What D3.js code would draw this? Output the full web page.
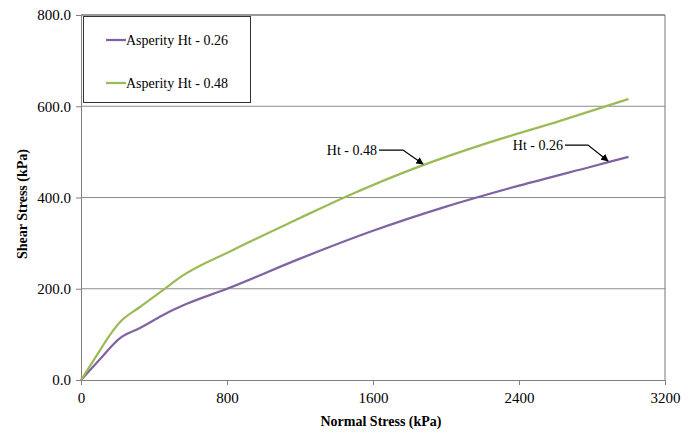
<!DOCTYPE html>
<html>
<head>
<meta charset="utf-8">
<script src="https://cdn.jsdelivr.net/npm/d3@7"></script>
<style>
  body { margin: 0; background: #fff; }
  svg text { font-family: "Times New Roman", "Liberation Serif", "DejaVu Serif", serif; }
</style>
</head>
<body>
<svg id="chart"></svg>
<script>
const width = 693,
  height = 434;
const margin = { top: 15, right: 28, bottom: 54, left: 81 };
const serif = "'Times New Roman', 'Liberation Serif', 'DejaVu Serif', serif";

// Series (normal stress kPa, shear stress kPa)
const normal26 = [0, 100, 214, 323, 471, 580, 800, 1200, 1600, 2000, 2400, 2800, 3000];
const shear26 = [0, 44, 92, 114, 147, 167, 200, 266, 327, 380, 426, 468, 489];
const normal48 = [0, 80, 159, 214, 323, 449, 542, 833, 1200, 1436, 1874, 2200, 2625, 3000];
const shear48 = [0, 50, 99, 127, 160, 197, 225, 285, 355, 399, 471, 516, 568, 616];

const seriesNames = ["Asperity Ht - 0.26", "Asperity Ht - 0.48"];
const seriesColors = ["#8064a2", "#9bbb59"];
const xTicks = [0, 800, 1600, 2400, 3200];
const yTicks = [0, 200, 400, 600, 800];

const series = [
  { name: seriesNames[0], color: seriesColors[0], pts: normal26.map((x, i) => [x, shear26[i]]) },
  { name: seriesNames[1], color: seriesColors[1], pts: normal48.map((x, i) => [x, shear48[i]]) }
];

const svg = d3.select("#chart")
  .attr("width", width)
  .attr("height", height)
  .attr("font-family", serif);

const x = d3.scaleLinear().domain([0, 3200]).range([margin.left, width - margin.right]);
const y = d3.scaleLinear().domain([0, 800]).range([height - margin.bottom, margin.top]);

// gridlines
svg.append("g")
  .selectAll("line")
  .data(yTicks.filter(d => d > 0 && d < 800))
  .enter()
  .append("line")
  .attr("x1", x(0))
  .attr("x2", x(3200))
  .attr("y1", d => y(d))
  .attr("y2", d => y(d))
  .attr("stroke", "#8c8c8c")
  .attr("stroke-width", 1);

// plot frame: top and right
svg.append("line")
  .attr("x1", x(0)).attr("x2", x(3200))
  .attr("y1", y(800)).attr("y2", y(800))
  .attr("stroke", "#333").attr("stroke-width", 1);
svg.append("line")
  .attr("x1", x(3200)).attr("x2", x(3200))
  .attr("y1", y(800)).attr("y2", y(0))
  .attr("stroke", "#777").attr("stroke-width", 1);

// axes
const xAxis = svg.append("g")
  .attr("transform", "translate(0," + y(0) + ")")
  .call(d3.axisBottom(x).tickValues(xTicks).tickFormat(d3.format("d")).tickSize(5).tickPadding(7).tickSizeOuter(0));
const yAxis = svg.append("g")
  .attr("transform", "translate(" + x(0) + ",0)")
  .call(d3.axisLeft(y).tickValues(yTicks).tickFormat(d3.format(".1f")).tickSize(5).tickPadding(5).tickSizeOuter(0));

[xAxis, yAxis].forEach(a => {
  a.attr("font-family", serif).attr("font-size", 15);
  a.select(".domain").attr("stroke", "#808080");
  a.selectAll(".tick line").attr("stroke", "#808080");
  a.selectAll(".tick text").attr("fill", "#000");
});

// lines
const line = d3.line()
  .x(d => x(d[0]))
  .y(d => y(d[1]))
  .curve(d3.curveMonotoneX);

svg.append("g")
  .selectAll("path")
  .data(series)
  .enter()
  .append("path")
  .attr("d", d => line(d.pts))
  .attr("fill", "none")
  .attr("stroke", d => d.color)
  .attr("stroke-width", 2.25);

// axis titles
svg.append("text")
  .attr("x", 381)
  .attr("y", 426)
  .attr("text-anchor", "middle")
  .attr("font-size", 14)
  .attr("font-weight", "bold")
  .text("Normal Stress (kPa)");

svg.append("text")
  .attr("transform", "translate(27,204) rotate(-90)")
  .attr("text-anchor", "middle")
  .attr("font-size", 14)
  .attr("font-weight", "bold")
  .text("Shear Stress (kPa)");

// legend
const legend = svg.append("g");
legend.append("rect")
  .attr("x", 83.5).attr("y", 16.5)
  .attr("width", 167).attr("height", 86)
  .attr("fill", "#fff")
  .attr("stroke", "#333")
  .attr("stroke-width", 1);
series.forEach((s, i) => {
  const ly = 40 + i * 43;
  legend.append("line")
    .attr("x1", 106).attr("x2", 126)
    .attr("y1", ly).attr("y2", ly)
    .attr("stroke", s.color)
    .attr("stroke-width", 2.25);
  legend.append("text")
    .attr("x", 126)
    .attr("y", ly + 5)
    .attr("font-size", 14)
    .text(s.name);
});

// callouts
const arrowDefs = svg.append("defs");
arrowDefs.append("marker")
  .attr("id", "arrow")
  .attr("viewBox", "0 0 10 10")
  .attr("refX", 9).attr("refY", 5)
  .attr("markerWidth", 6).attr("markerHeight", 6)
  .attr("orient", "auto")
  .append("path")
  .attr("d", "M0,0 L10,5 L0,10 z")
  .attr("fill", "#000");

const callouts = [
  { label: "Ht - 0.48", tx: 377, ty: 150, bx: 403, at: [1874, 471] },
  { label: "Ht - 0.26", tx: 563, ty: 145, bx: 588, at: [2888, 478] }
];
callouts.forEach(c => {
  svg.append("text")
    .attr("x", c.tx)
    .attr("y", c.ty + 5)
    .attr("text-anchor", "end")
    .attr("font-size", 14)
    .text(c.label);
  svg.append("path")
    .attr("d", "M" + (c.tx + 2) + "," + c.ty + " L" + c.bx + "," + c.ty +
      " L" + x(c.at[0]) + "," + (y(c.at[1]) - 1))
    .attr("fill", "none")
    .attr("stroke", "#000")
    .attr("stroke-width", 1.25)
    .attr("marker-end", "url(#arrow)");
});
</script>
</body>
</html>
